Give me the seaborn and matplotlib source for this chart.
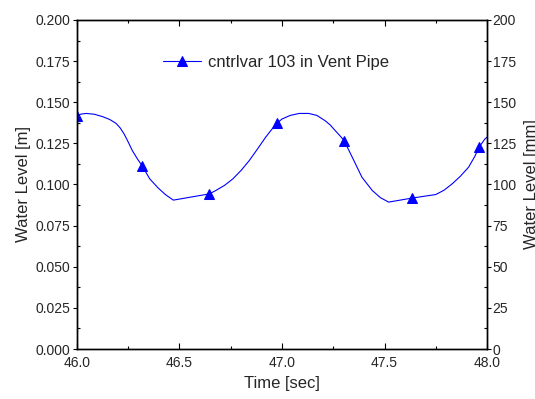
import matplotlib
matplotlib.use("Agg")
import matplotlib.pyplot as plt
import seaborn as sns
import pandas as pd
from matplotlib.ticker import MultipleLocator, FormatStrFormatter

# curve points (time in s, level in m)
time_s = [46.000, 46.020, 46.045, 46.085, 46.126, 46.160, 46.190, 46.210, 46.230,
          46.250, 46.270, 46.295, 46.318, 46.355, 46.395, 46.430, 46.470, 46.646,
          46.678, 46.720, 46.760, 46.800, 46.840, 46.880, 46.920, 46.950, 46.975,
          47.000, 47.040, 47.084, 47.130, 47.170, 47.210, 47.235, 47.260, 47.280,
          47.303, 47.343, 47.390, 47.440, 47.480, 47.520, 47.632, 47.750, 47.790,
          47.830, 47.870, 47.910, 47.940, 47.963, 47.990, 48.000]
level_m = [0.1418, 0.1428, 0.1432, 0.1427, 0.1412, 0.1395, 0.1372, 0.1345, 0.1307,
           0.1258, 0.1206, 0.1155, 0.1113, 0.1034, 0.0980, 0.0940, 0.0905, 0.0943,
           0.0964, 0.0995, 0.1034, 0.1085, 0.1145, 0.1215, 0.1287, 0.1335, 0.1372,
           0.1398, 0.1420, 0.1432, 0.1432, 0.1420, 0.1388, 0.1362, 0.1327, 0.1300,
           0.1267, 0.1165, 0.1044, 0.0964, 0.0920, 0.0893, 0.0917, 0.0939, 0.0965,
           0.1004, 0.1050, 0.1105, 0.1170, 0.1230, 0.1277, 0.1288]
# which points carry a triangle symbol
marker_idx = [0, 12, 17, 26, 36, 42, 49]
series_name = "cntrlvar 103 in Vent Pipe"

df = pd.DataFrame({"time": time_s, "level": level_m})

sns.set_style("ticks")
plt.rcParams["font.family"] = ["Liberation Sans", "DejaVu Sans"]

fig = plt.figure(figsize=(5.35, 3.99), dpi=100)
ax = fig.add_axes([0.1439, 0.1253, 0.7664, 0.8246])

sns.lineplot(data=df, x="time", y="level", ax=ax, color="#0000FF", lw=0.8,
             marker="^", markersize=7, markevery=marker_idx, markeredgecolor="#0000FF",
             label=series_name, sort=False)

ax.set_xlim(46, 48)
ax.set_ylim(0, 0.2)
ax.xaxis.set_major_locator(MultipleLocator(0.5))
ax.xaxis.set_minor_locator(MultipleLocator(0.25))
ax.yaxis.set_major_locator(MultipleLocator(0.025))
ax.yaxis.set_minor_locator(MultipleLocator(0.0125))
ax.xaxis.set_major_formatter(FormatStrFormatter("%.1f"))
ax.yaxis.set_major_formatter(FormatStrFormatter("%.3f"))

ax.set_xlabel("Time [sec]", fontsize=12, labelpad=4)
ax.set_ylabel("Water Level [m]", fontsize=12, labelpad=3)

ax.tick_params(axis="x", which="major", direction="in", length=4, width=0.8,
               top=True, labelsize=10, pad=5, color="black")
ax.tick_params(axis="x", which="minor", direction="in", length=2.5, width=0.8,
               top=True, color="black")
ax.tick_params(axis="y", which="major", direction="out", length=3, width=0.8,
               right=False, labelsize=10, pad=2, color="black")
ax.tick_params(axis="y", which="minor", direction="in", length=2.5, width=0.8,
               right=False, color="black")

for s in ax.spines.values():
    s.set_visible(True)
    s.set_color("black")
    s.set_linewidth(1.0)

# right axis in millimetres
ax2 = ax.twinx()
ax2.set_ylim(0, 200)
ax2.yaxis.set_major_locator(MultipleLocator(25))
ax2.yaxis.set_minor_locator(MultipleLocator(12.5))
ax2.set_ylabel("Water Level [mm]", fontsize=12, labelpad=6)
ax2.tick_params(axis="y", which="major", direction="out", length=3, width=0.8,
                labelsize=10, pad=1, color="black")
ax2.tick_params(axis="y", which="minor", direction="in", length=2.5, width=0.8,
                color="black")
for s in ax2.spines.values():
    s.set_visible(True)
    s.set_color("black")
    s.set_linewidth(1.0)

leg = ax.legend(loc="center left", bbox_to_anchor=(0.209, 0.870), frameon=False,
                fontsize=12, borderpad=0, borderaxespad=0, handlelength=2.3,
                handletextpad=0.4)

fig.savefig("out.png", dpi=100)
